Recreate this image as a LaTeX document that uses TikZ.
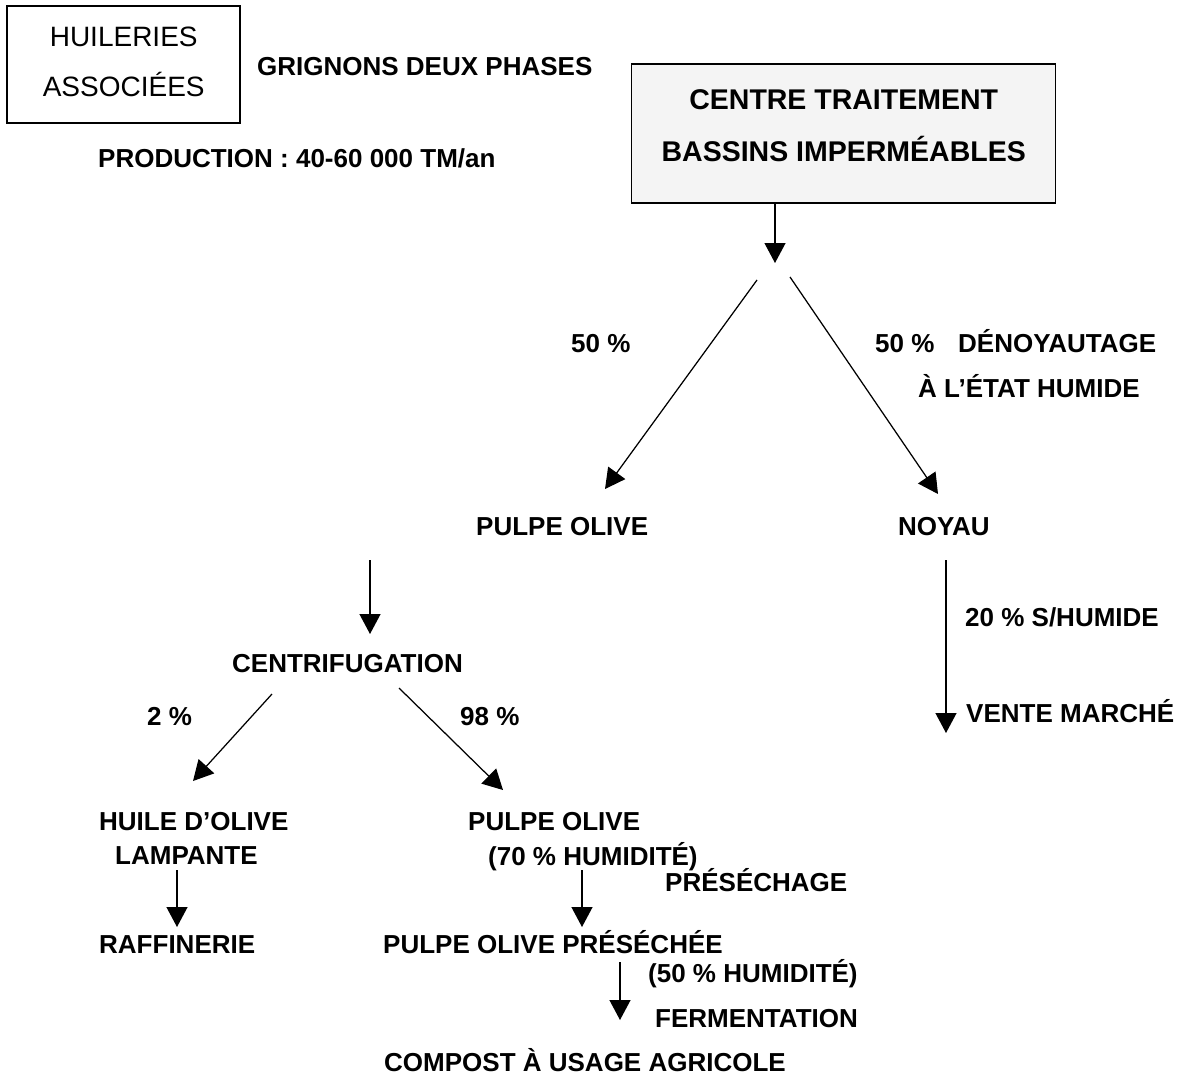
\documentclass[tikz,border=0pt]{standalone}
\usepackage{fontspec}
\setmainfont{Liberation Sans}
\usetikzlibrary{arrows.meta}
\begin{document}
\begin{tikzpicture}[x=1pt,y=-1pt,
  lbl/.style={font=\fontsize{26}{31}\selectfont\bfseries, inner sep=0pt,
    text height=18.6pt, text depth=0pt, anchor=west},
  flow/.style={line width=1.25pt, -{Triangle[width=21pt,length=20pt]}},
  frame/.style={draw, line width=1.5pt, inner sep=0pt, align=center}
]
\useasboundingbox (0,0) rectangle (1177,1077);

% source and treatment centre
\node[frame, minimum width=233pt, minimum height=117pt,
  font=\fontsize{28}{49.5}\selectfont, text depth=5pt]
  (huil) at (123.7,64.3) {HUILERIES\\ASSOCIÉES};
\node[lbl] (grig) at (257,66) {GRIGNONS DEUX PHASES};
\node[lbl] (prod) at (98,158) {PRODUCTION : 40-60 000 TM/an};

\node[frame, fill=gray!9, minimum width=424pt, minimum height=139pt,
  font=\fontsize{28.5}{52}\selectfont\bfseries, text depth=15pt]
  (ctr) at (843.7,133.3) {CENTRE TRAITEMENT\\BASSINS IMPERMÉABLES};

% split into pulp and stones
\coordinate (split) at (775,263);
\draw[flow] (ctr.south -| split) -- (split);
\coordinate (la) at (757,280);
\coordinate (lb) at (605,489);
\coordinate (ra) at (790,277);
\coordinate (rb) at (938,494);
\draw[flow] (la) -- (lb);
\draw[flow] (ra) -- (rb);
\node[lbl] (pa) at (571,343) {50 \%};
\node[lbl] (pb) at (875,343) {50 \%};
\node[lbl] (deno) at (958,343) {DÉNOYAUTAGE};
\node[lbl] (etat) at (918,388) {À L’ÉTAT HUMIDE};

\node[lbl] (pulpe) at (476,526) {PULPE OLIVE};
\node[lbl] (noyau) at (898,526) {NOYAU};

% stones branch
\coordinate (na) at (946,560);
\coordinate (nb) at (946,733);
\draw[flow] (na) -- (nb);
\node[lbl] (shum) at (965,617) {20 \% S/HUMIDE};
\node[lbl] (vente) at (966,713) {VENTE MARCHÉ};

% pulp branch
\coordinate (ca) at (370,560);
\coordinate (cb) at (370,634);
\draw[flow] (ca) -- (cb);
\node[lbl] (centri) at (232,663) {CENTRIFUGATION};
\coordinate (ha) at (272,694);
\coordinate (hb) at (193,781);
\coordinate (qa) at (399,688);
\coordinate (qb) at (503,790);
\draw[flow] (ha) -- (hb);
\draw[flow] (qa) -- (qb);
\node[lbl] (p2) at (147,716) {2 \%};
\node[lbl] (p98) at (460,716) {98 \%};

\node[lbl] (huile) at (99,821) {HUILE D’OLIVE};
\node[lbl] (lamp) at (115,855) {LAMPANTE};
\coordinate (fa) at (177,870);
\coordinate (fb) at (177,927);
\draw[flow] (fa) -- (fb);
\node[lbl] (raff) at (99,944) {RAFFINERIE};

\node[lbl] (pulpe2) at (468,821) {PULPE OLIVE};
\node[lbl] (hum70) at (488,856) {(70 \% HUMIDITÉ)};
\node[lbl] (presech) at (665,882) {PRÉSÉCHAGE};
\coordinate (sa) at (582,870);
\coordinate (sb) at (582,927);
\draw[flow] (sa) -- (sb);
\node[lbl] (pulpe3) at (383,944) {PULPE OLIVE PRÉSÉCHÉE};
\node[lbl] (hum50) at (648,973) {(50 \% HUMIDITÉ)};
\coordinate (ga) at (620,962);
\coordinate (gb) at (620,1020);
\draw[flow] (ga) -- (gb);
\node[lbl] (ferm) at (655,1018) {FERMENTATION};
\node[lbl] (compost) at (384,1062) {COMPOST À USAGE AGRICOLE};
\end{tikzpicture}
\end{document}
